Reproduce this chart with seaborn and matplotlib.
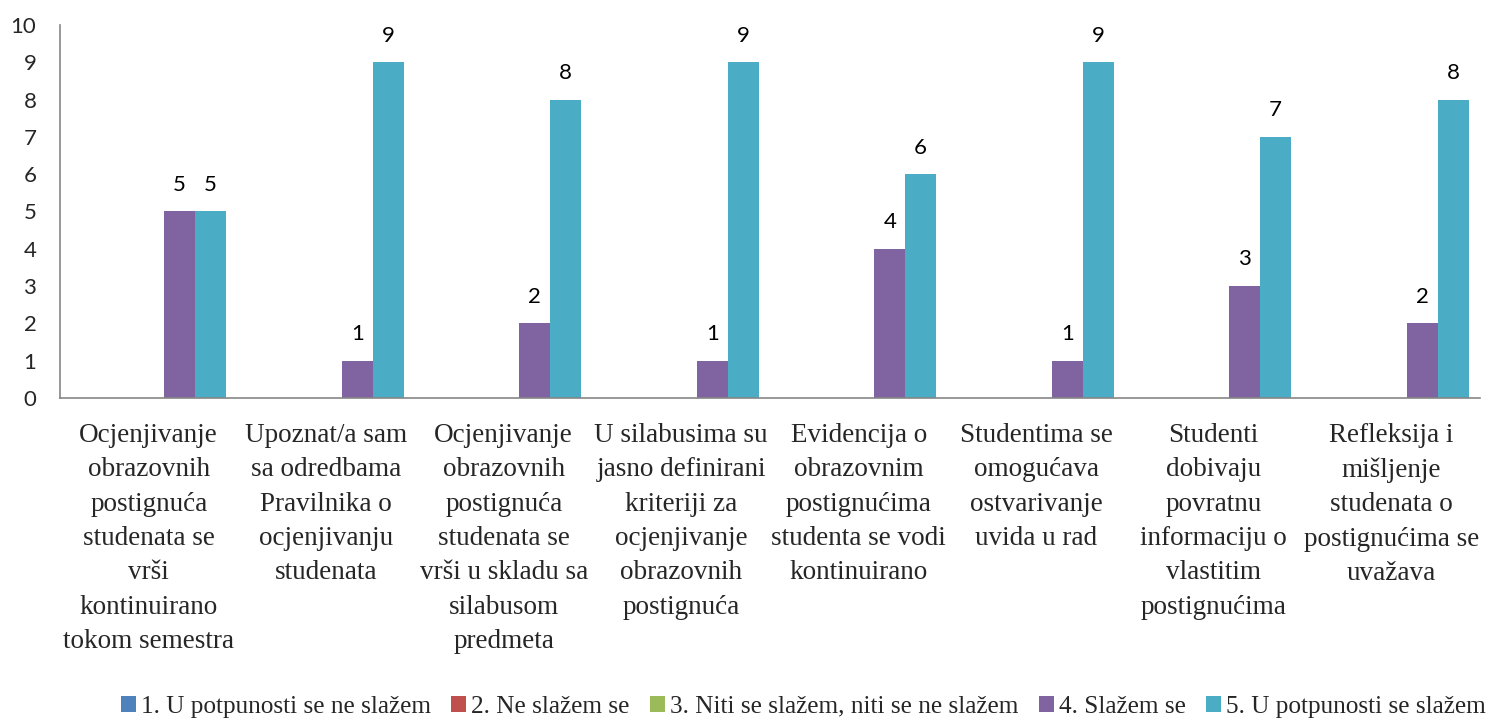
import pandas as pd
import seaborn as sns
import matplotlib.pyplot as plt

categories = [
    "Ocjenjivanje\nobrazovnih\npostignuća\nstudenata se\nvrši\nkontinuirano\ntokom semestra",
    "Upoznat/a sam\nsa odredbama\nPravilnika o\nocjenjivanju\nstudenata",
    "Ocjenjivanje\nobrazovnih\npostignuća\nstudenata se\nvrši u skladu sa\nsilabusom\npredmeta",
    "U silabusima su\njasno definirani\nkriteriji za\nocjenjivanje\nobrazovnih\npostignuća",
    "Evidencija o\nobrazovnim\npostignućima\nstudenta se vodi\nkontinuirano",
    "Studentima se\nomogućava\nostvarivanje\nuvida u rad",
    "Studenti\ndobivaju\npovratnu\ninformaciju o\nvlastitim\npostignućima",
    "Refleksija i\nmišljenje\nstudenata o\npostignućima se\nuvažava",
]

series_names = [
    "1. U potpunosti se ne slažem",
    "2. Ne slažem se",
    "3. Niti se slažem, niti se ne slažem",
    "4. Slažem se",
    "5. U potpunosti se slažem",
]

s1 = [0, 0, 0, 0, 0, 0, 0, 0]
s2 = [0, 0, 0, 0, 0, 0, 0, 0]
s3 = [0, 0, 0, 0, 0, 0, 0, 0]
s4 = [5, 1, 2, 1, 4, 1, 3, 2]
s5 = [5, 9, 8, 9, 6, 9, 7, 8]

colors = ["#4F81BD", "#C0504D", "#9BBB59", "#8064A2", "#4BACC6"]

rows = []
for name, vals in zip(series_names, [s1, s2, s3, s4, s5]):
    for cat, v in zip(categories, vals):
        rows.append({"Kategorija": cat, "Odgovor": name, "Broj": v})
df = pd.DataFrame(rows)

sns.set_style("white")
plt.rcParams["font.family"] = ["Lato", "DejaVu Sans"]

fig = plt.figure(figsize=(14.96, 7.22), dpi=100)
ax = fig.add_axes([0.0401, 0.4488, 0.9492, 0.5166])

sns.barplot(
    data=df, x="Kategorija", y="Broj", hue="Odgovor",
    order=categories, hue_order=series_names,
    palette=colors, saturation=1, width=0.873,
    linewidth=0, errorbar=None, ax=ax,
)

# value labels only on non-zero bars
for container in ax.containers:
    labels = [f"{int(b.get_height())}" if b.get_height() > 0 else "" for b in container]
    ax.bar_label(container, labels=labels, padding=12, fontsize=16, color="#000000")

ax.set_ylim(0, 10)
ax.set_xlim(-0.5, len(categories) - 0.5)
ax.set_yticks(range(0, 11))
ax.set_xlabel("")
ax.set_ylabel("")
ax.tick_params(axis="y", length=0, pad=17, labelsize=16)
ax.tick_params(axis="x", length=0, pad=18)
for lbl in ax.get_xticklabels():
    lbl.set_fontfamily("Liberation Serif")
    lbl.set_fontsize(19.5)
    lbl.set_linespacing(1.49)

sns.despine(ax=ax)
for side in ["left", "bottom"]:
    ax.spines[side].set_color("#868686")
    ax.spines[side].set_linewidth(1.2)

handles, labels = ax.get_legend_handles_labels()
ax.legend_.remove()
fig.legend(
    handles, labels, loc="center", bbox_to_anchor=(0.537, 0.021), ncol=5,
    frameon=False, handlelength=0.6, handleheight=0.6, handletextpad=0.2,
    columnspacing=0.8, prop={"family": "Liberation Serif", "size": 18.2},
)

fig.savefig("out.png", dpi=100)
